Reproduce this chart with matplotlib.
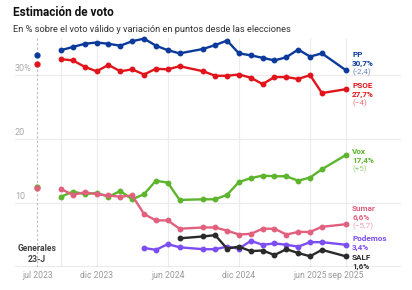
import matplotlib
matplotlib.use("Agg")
import matplotlib.pyplot as plt

plt.rcParams['font.family'] = ['Liberation Sans Narrow', 'Roboto', 'DejaVu Sans']

# meses con estimación (sin agosto)
meses = ["2023-09", "2023-10", "2023-11", "2023-12",
         "2024-01", "2024-02", "2024-03", "2024-04", "2024-05", "2024-06", "2024-07",
         "2024-09", "2024-10", "2024-11", "2024-12",
         "2025-01", "2025-02", "2025-03", "2025-04", "2025-05", "2025-06", "2025-07",
         "2025-09"]

pp = [33.8, 34.3, 34.8, 35.0, 34.8, 34.5, 35.2, 35.6, 34.5, 33.8, 33.3,
      34.0, 34.6, 35.3, 33.3, 33.0, 32.6, 32.2, 32.7, 33.9, 32.8, 33.3, 30.7]
psoe = [32.4, 32.2, 31.2, 30.5, 31.5, 30.5, 30.8, 30.0, 30.9, 30.8, 31.3,
        30.5, 29.8, 29.8, 30.0, 29.5, 28.5, 29.6, 29.6, 29.3, 29.9, 27.1, 27.7]
vox = [10.9, 11.7, 11.3, 11.5, 10.9, 11.8, 10.5, 11.3, 13.4, 13.1, 10.4,
       10.5, 10.5, 11.2, 13.2, 13.8, 14.2, 14.1, 14.1, 13.4, 13.9, 15.2, 17.4]
sumar = [12.1, 11.2, 11.6, 11.3, 11.1, 10.9, 11.1, 8.2, 7.2, 7.2, 5.9,
         6.1, 6.1, 5.6, 5.0, 5.1, 5.9, 5.9, 5.0, 5.4, 5.4, 6.2, 6.6]
podemos = [None] * 7 + [2.9, 2.6, 3.5, 3.0,
                        2.7, 2.7, 3.1, 2.8, 4.0, 3.4, 3.6, 3.4, 3.1, 3.8, 3.8, 3.4]
salf = [None] * 10 + [4.4,
                      4.7, 4.9, 2.8, 3.1, 2.4, 2.5, 1.8, 2.7, 2.1, 1.6, 2.6, 1.6]

# resultado de las generales del 23-J
elecciones = {"PP": 33.1, "PSOE": 31.7, "Vox": 12.4, "Sumar": 12.3}

partidos = ["PP", "PSOE", "Vox", "Sumar", "Podemos", "SALF"]
series = [pp, psoe, vox, sumar, podemos, salf]
variacion = ["(-2,4)", "(\u22124)", "(+5)", "(\u22125,7)", None, None]
colores = ["#0b3a9c", "#e1141b", "#5db42d", "#e0607e", "#7b4df2", "#2a2a2a"]

tick_meses = ["2023-07", "2023-12", "2024-06", "2024-12", "2025-06", "2025-09"]
tick_labels = ["jul 2023", "dic 2023", "jun 2024", "dic 2024", "jun 2025", "sep 2025"]


def idx(m):
    y, mm = m.split("-")
    return (int(y) - 2023) * 12 + int(mm) - 7


x = [idx(m) for m in meses]

fig = plt.figure(figsize=(4.12, 2.90), dpi=100)
W, H = 412, 290
ax = fig.add_axes([15 / W, (H - 266.5) / H, (401 - 15) / W, (266.5 - 38) / H])
ax.set_xlim(-1.88, -1.88 + (401 - 15) / 11.86)
ax.set_ylim(0, (266.5 - 38) / 6.4)


def fy(p):
    # posición vertical en píxeles -> valor del eje
    return (266.5 - p) / 6.4


for s in ax.spines.values():
    s.set_visible(False)
ax.axhline(0, color="#9a9a9a", lw=1.0, zorder=5)
ax.set_xticks([])
ax.set_yticks([])

for v in [10, 20, 30]:
    ax.axhline(v, color="#ececec", lw=0.8, zorder=0)
    ax.text(-1.88, v + 0.3, "30%" if v == 30 else str(v), color="#aaaaaa",
            fontsize=6.5, ha="left", va="bottom")

for m in ["2023-09"] + tick_meses[1:]:
    ax.axvline(idx(m), color="#ececec", lw=0.8, zorder=0)
ax.axvline(0, color="#bbbbbb", lw=0.8, ls=(0, (2, 2)), zorder=0)

for m, lab in zip(tick_meses, tick_labels):
    ax.text(idx(m), fy(275), lab, color="#999999", fontsize=6.2, ha="center", va="center")

ax.text(0, fy(254), "Generales\n23-J", color="#444444", fontsize=6.2, fontweight="bold",
        ha="center", va="center", linespacing=1.2)

for nombre, vals, col in zip(partidos, series, colores):
    xs = [xi for xi, v in zip(x, vals) if v is not None]
    ys = [v for v in vals if v is not None]
    ax.plot(xs, ys, color=col, lw=1.7, marker="o", ms=3.2, clip_on=False, zorder=3)
    if nombre in elecciones:
        ax.plot(0, elecciones[nombre], "o", color=col, ms=3.5, clip_on=False, zorder=3)

# etiquetas finales
label_y = [54.3, 85.5, 151.5, 208.3, 238.3, 257.3]
xt = 26 + 6.5 / 11.86
for nombre, vals, col, var, yp in zip(partidos, series, colores, variacion, label_y):
    ax.text(xt, fy(yp), nombre, color=col, fontsize=5.9, fontweight="bold",
            ha="left", va="center")
    ax.text(xt, fy(yp + 9.0), f"{vals[-1]:.1f}%".replace(".", ","), color=col,
            fontsize=5.9, fontweight="bold", ha="left", va="center")
    if var:
        ax.text(xt, fy(yp + 18.0), var, color=col, alpha=0.6, fontsize=5.9,
                ha="left", va="center")

fig.text(13 / W, 1 - 12 / H, "Estimación de voto", fontsize=8.5, fontweight="bold",
         color="#111111", ha="left", va="center")
fig.text(13 / W, 1 - 29 / H,
         "En % sobre el voto válido y variación en puntos desde las elecciones",
         fontsize=6.7, color="#333333", ha="left", va="center")

fig.savefig("out.png", dpi=100)
